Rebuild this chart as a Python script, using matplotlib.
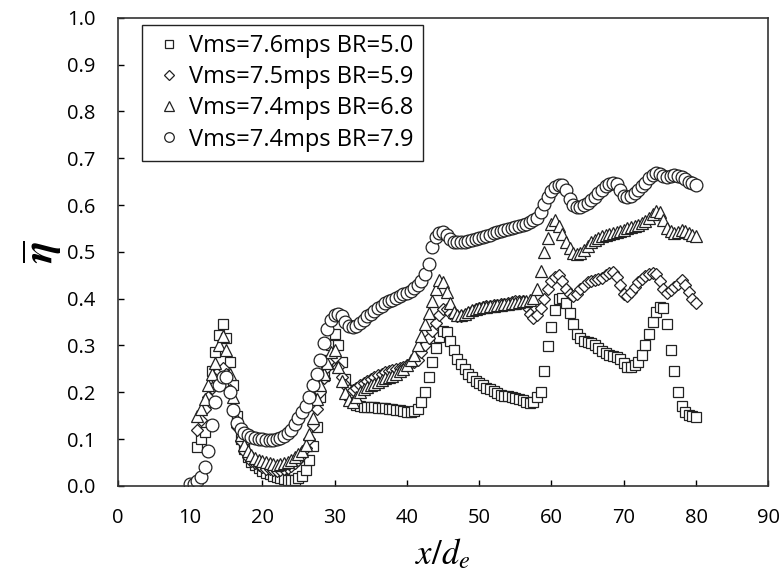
"""Mean eta along x/d_e for four blowing ratios."""

import matplotlib

matplotlib.use("Agg")
import matplotlib.pyplot as plt
import numpy as np

nan = np.nan

# sampled every 0.5 from x/d_e = 10 to 80
x_de = np.arange(10.0, 80.25, 0.5)

eta_br50 = [
    nan, nan, 0.082, 0.100, 0.115, 0.180, 0.245, 0.285, 0.323, 0.345,
    0.315, 0.265, 0.215, 0.150, 0.100, 0.078, 0.062, 0.052, 0.044, 0.038,
    0.032, 0.028, 0.025, 0.022, 0.019, 0.016, 0.014, 0.013, 0.012, 0.013,
    0.016, 0.022, 0.033, 0.055, 0.085, 0.125, 0.190, 0.235, 0.270, 0.300,
    0.325, 0.300, 0.265, 0.228, 0.195, 0.180, 0.172, 0.170, 0.169, 0.168,
    0.168, 0.168, 0.167, 0.167, 0.166, 0.165, 0.164, 0.163, 0.162, 0.160,
    0.158, 0.158, 0.160, 0.165, 0.180, 0.200, 0.232, 0.265, 0.295, 0.318,
    0.330, 0.328, 0.310, 0.290, 0.272, 0.260, 0.250, 0.240, 0.232, 0.225,
    0.220, 0.215, 0.210, 0.206, 0.202, 0.198, 0.195, 0.193, 0.191, 0.190,
    0.188, 0.186, 0.184, 0.180, 0.178, 0.180, 0.190, 0.200, 0.245, 0.298,
    0.340, 0.375, 0.400, 0.402, 0.390, 0.370, 0.345, 0.325, 0.315, 0.310,
    0.308, 0.305, 0.300, 0.295, 0.288, 0.283, 0.280, 0.278, 0.276, 0.272,
    0.262, 0.255, 0.255, 0.258, 0.265, 0.280, 0.300, 0.325, 0.350, 0.372,
    0.383, 0.380, 0.345, 0.290, 0.245, 0.200, 0.170, 0.158, 0.152, 0.149,
    0.148,
]

eta_br59 = [
    nan, nan, 0.120, 0.140, 0.165, 0.190, 0.210, 0.230, 0.245, 0.252,
    0.240, 0.205, 0.165, 0.125, 0.095, 0.075, 0.062, 0.054, 0.048, 0.044,
    0.040, 0.037, 0.035, 0.033, 0.032, 0.033, 0.035, 0.038, 0.042, 0.048,
    0.055, 0.065, 0.080, 0.100, 0.130, 0.165, 0.200, 0.230, 0.255, 0.272,
    0.275, 0.255, 0.232, 0.215, 0.205, 0.205, 0.210, 0.215, 0.220, 0.225,
    0.228, 0.232, 0.236, 0.240, 0.243, 0.246, 0.248, 0.250, 0.252, 0.255,
    0.258, 0.262, 0.265, 0.270, 0.285, 0.300, 0.315, 0.330, 0.348, 0.365,
    0.378, 0.378, 0.370, 0.365, 0.362, 0.363, 0.366, 0.370, 0.374, 0.378,
    0.381, 0.383, 0.384, 0.385, 0.386, 0.387, 0.388, 0.389, 0.390, 0.392,
    0.394, 0.396, 0.395, 0.385, 0.368, 0.358, 0.365, 0.380, 0.400, 0.420,
    0.438, 0.447, 0.450, 0.437, 0.420, 0.410, 0.405, 0.410, 0.420, 0.428,
    0.435, 0.438, 0.440, 0.442, 0.445, 0.450, 0.455, 0.458, 0.447, 0.430,
    0.410, 0.405, 0.415, 0.425, 0.435, 0.442, 0.448, 0.452, 0.455, 0.452,
    0.438, 0.420, 0.412, 0.418, 0.425, 0.432, 0.440, 0.430, 0.415, 0.400,
    0.390,
]

eta_br68 = [
    nan, nan, 0.150, 0.165, 0.185, 0.215, 0.240, 0.262, 0.300, 0.320,
    0.290, 0.240, 0.190, 0.140, 0.108, 0.088, 0.075, 0.066, 0.060, 0.056,
    0.053, 0.050, 0.048, 0.046, 0.045, 0.046, 0.048, 0.052, 0.056, 0.062,
    0.068, 0.075, 0.088, 0.110, 0.145, 0.185, 0.215, 0.240, 0.262, 0.285,
    0.290, 0.255, 0.225, 0.198, 0.183, 0.180, 0.190, 0.200, 0.207, 0.212,
    0.215, 0.218, 0.222, 0.226, 0.230, 0.232, 0.235, 0.240, 0.245, 0.250,
    0.258, 0.268, 0.280, 0.300, 0.320, 0.345, 0.370, 0.395, 0.420, 0.440,
    0.435, 0.415, 0.390, 0.372, 0.365, 0.365, 0.368, 0.372, 0.375, 0.377,
    0.380, 0.382, 0.383, 0.384, 0.385, 0.386, 0.387, 0.388, 0.389, 0.390,
    0.391, 0.392, 0.394, 0.396, 0.398, 0.402, 0.420, 0.460, 0.500, 0.530,
    0.560, 0.568, 0.555, 0.538, 0.522, 0.508, 0.497, 0.495, 0.498, 0.505,
    0.512, 0.520, 0.525, 0.530, 0.533, 0.535, 0.538, 0.540, 0.542, 0.545,
    0.547, 0.550, 0.553, 0.555, 0.558, 0.562, 0.566, 0.572, 0.580, 0.588,
    0.585, 0.567, 0.552, 0.545, 0.540, 0.542, 0.547, 0.545, 0.540, 0.536,
    0.533,
]

eta_br79 = [
    0.005, 0.005, 0.010, 0.020, 0.040, 0.075, 0.130, 0.180, 0.215, 0.232,
    0.232, 0.200, 0.162, 0.135, 0.122, 0.113, 0.108, 0.105, 0.103, 0.101,
    0.100, 0.099, 0.098, 0.098, 0.100, 0.102, 0.106, 0.112, 0.120, 0.132,
    0.145, 0.158, 0.170, 0.190, 0.215, 0.240, 0.270, 0.305, 0.335, 0.355,
    0.365, 0.368, 0.362, 0.350, 0.342, 0.340, 0.342, 0.348, 0.355, 0.362,
    0.368, 0.374, 0.380, 0.385, 0.390, 0.394, 0.398, 0.402, 0.406, 0.410,
    0.413, 0.417, 0.422, 0.430, 0.437, 0.452, 0.475, 0.510, 0.532, 0.540,
    0.542, 0.535, 0.527, 0.522, 0.520, 0.520, 0.522, 0.524, 0.526, 0.528,
    0.530, 0.532, 0.534, 0.537, 0.540, 0.542, 0.545, 0.547, 0.549, 0.551,
    0.553, 0.555, 0.557, 0.560, 0.563, 0.567, 0.573, 0.585, 0.603, 0.618,
    0.630, 0.638, 0.643, 0.642, 0.632, 0.613, 0.600, 0.595, 0.595, 0.600,
    0.605, 0.610, 0.617, 0.625, 0.633, 0.640, 0.645, 0.648, 0.645, 0.632,
    0.620, 0.617, 0.620, 0.625, 0.632, 0.640, 0.648, 0.657, 0.664, 0.668,
    0.666, 0.662, 0.660, 0.662, 0.664, 0.662, 0.660, 0.655, 0.650, 0.647,
    0.643,
]

labels = [
    "Vms=7.6mps BR=5.0",
    "Vms=7.5mps BR=5.9",
    "Vms=7.4mps BR=6.8",
    "Vms=7.4mps BR=7.9",
]

x_ticks = [0, 10, 20, 30, 40, 50, 60, 70, 80, 90]
y_ticks = [0.0, 0.1, 0.2, 0.3, 0.4, 0.5, 0.6, 0.7, 0.8, 0.9, 1.0]


def main() -> None:
    plt.rcParams["font.family"] = ["Open Sans", "DejaVu Sans"]
    plt.rcParams["mathtext.fontset"] = "stix"

    fig = plt.figure(figsize=(7.8, 5.75), dpi=100)
    ax = fig.add_axes([0.151, 0.155, 0.834, 0.814])

    series = [eta_br50, eta_br59, eta_br68, eta_br79]
    markers = [("s", 7.8), ("D", 6.6), ("^", 9.0), ("o", 9.2)]
    for values, (marker, size), label in zip(series, markers, labels):
        ax.plot(
            x_de, values, linestyle="none", marker=marker, markersize=size,
            markerfacecolor="white", markeredgecolor="#222222",
            markeredgewidth=0.9, label=label,
        )

    ax.set_xlim(0, 90)
    ax.set_ylim(0, 1.0)
    ax.set_xticks(x_ticks)
    ax.set_yticks(y_ticks)
    ax.set_yticklabels([f"{v:.1f}" for v in y_ticks])
    ax.tick_params(direction="in", length=4, width=1, labelsize=14.5, colors="black")
    ax.tick_params(axis="y", pad=16)
    ax.tick_params(axis="x", pad=16)
    for spine in ax.spines.values():
        spine.set_linewidth(1.2)
        spine.set_color("#333333")

    ax.set_xlabel(r"$x/d_e$", fontsize=25, labelpad=7)
    ax.set_ylabel(r"$\overline{\boldsymbol{\eta}}$", fontsize=30, labelpad=2)

    leg = ax.legend(
        loc="upper left", bbox_to_anchor=(0.037, 0.985), borderaxespad=0,
        fontsize=17, markerscale=0.75, handlelength=1.5, handletextpad=0.1,
        labelspacing=0.3, borderpad=0.4, fancybox=False, framealpha=1,
    )
    leg.get_frame().set_edgecolor("#222222")
    leg.get_frame().set_linewidth(1.0)

    fig.savefig("out.png", dpi=100)
    plt.close(fig)


if __name__ == "__main__":
    main()
